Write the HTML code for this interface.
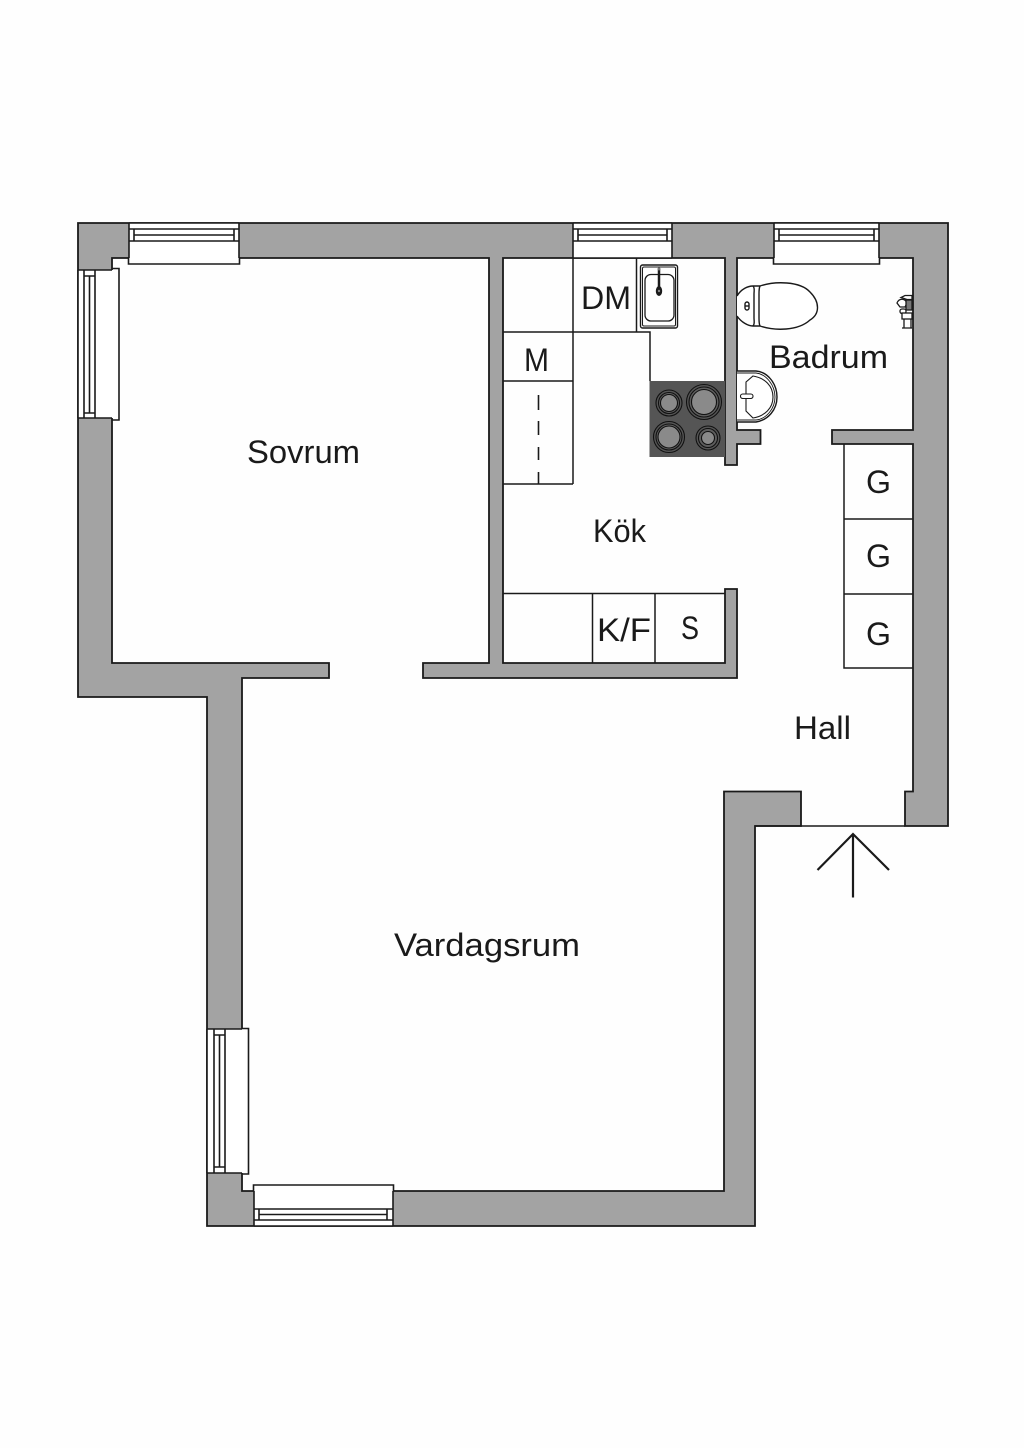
<!DOCTYPE html>
<html>
<head>
<meta charset="utf-8">
<style>
html,body{margin:0;padding:0;background:#fefefe;}
svg{display:block;}
text{font-family:"Liberation Sans",sans-serif;font-size:32px;fill:#1a1a1a;}
</style>
</head>
<body>
<svg xmlns="http://www.w3.org/2000/svg" width="1024" height="1448" viewBox="0 0 1024 1448">
<rect width="1024" height="1448" fill="#fefefe"/>

<!-- Walls -->
<path d="M78 223H948V826H905V791.500H913V444H832V430H913V258H737V430H760.500V444H737V465H725V258H503V663H725V589H737V678H423V663H489V258H112V663H329V678H242V1191H724V791.500H801V826H755V1226H207V697H78Z" fill="#a3a3a3" stroke="#1a1a1a" stroke-width="1.800" stroke-linejoin="miter"/>

<g fill="none" stroke="#1a1a1a" stroke-width="1.600">
<!-- Window top-left -->
<rect x="129" y="223" width="110" height="38" fill="#fff" stroke="none"/>
<path d="M129 223H239M129 223V258M239 223V258M129 258H128.500V264H239.500V258H239"/>
<path d="M129 229H239M129 241H239M134 229V241M234 229V241M134 235H234"/>

<!-- Window left -->
<rect x="78" y="270" width="38" height="148" fill="#fff" stroke="none"/>
<path d="M78 270H112M78 418H112M78 270V418M112 268.500H119V420H112"/>
<path d="M84 270V418M95 270V418M84 276H95M84 413H95M89.500 276V413"/>

<!-- Window kitchen -->
<rect x="573" y="223" width="99" height="35" fill="#fff" stroke="none"/>
<path d="M573 223V258M672 223V258M573 223H672M573 258H672"/>
<path d="M573 229H672M573 241H672M578 229V241M667 229V241M578 235H667"/>

<!-- Window bathroom -->
<rect x="774" y="223" width="105" height="38" fill="#fff" stroke="none"/>
<path d="M774 223H879M774 223V258M879 223V258M774 258H773.500V264H879.500V258H879"/>
<path d="M774 229H879M774 241H879M779 229V241M874 229V241M779 235H874"/>

<!-- Window living left -->
<rect x="207" y="1029" width="38" height="144" fill="#fff" stroke="none"/>
<path d="M207 1029H242M207 1173H242M207 1029V1173M242 1028.500H248.500V1174H242"/>
<path d="M214 1029V1173M225 1029V1173M214 1035H225M214 1167H225M219.500 1035V1167"/>

<!-- Window living bottom -->
<rect x="254" y="1188" width="139" height="38" fill="#fff" stroke="none"/>
<path d="M254 1226H393M254 1191V1226M393 1191V1226M253.500 1191V1185H393.500V1191M254 1209H393M254 1220H393M259 1209V1220M387 1209V1220M259 1214.500H387"/>
</g>

<!-- Kitchen counters -->
<g fill="none" stroke="#1a1a1a" stroke-width="1.500">
<path d="M503 332H650V381M573 258V484M503 381H573M503 484H573M636.500 258V332"/>
<path d="M538.500 395V410M538.500 421V435M538.500 447V460M538.500 472V484" stroke-width="1.600"/>
<path d="M503 593.500H725M592.500 593V663M655 593V663"/>
<!-- Closets -->
<path d="M844 444V668H913M844 519H913M844 594H913"/>
</g>

<!-- Hob -->
<rect x="649.500" y="381" width="75.500" height="76" fill="#555"/>
<g stroke="#111" stroke-width="1.100">
<circle cx="669" cy="403" r="13" fill="#555"/>
<circle cx="669" cy="403" r="10.500" fill="#5e5e5e"/>
<circle cx="669" cy="403" r="8.500" fill="#8a8a8a"/>
<circle cx="704" cy="402" r="17.500" fill="#555"/>
<circle cx="704" cy="402" r="15" fill="#5e5e5e"/>
<circle cx="704" cy="402" r="12.500" fill="#8a8a8a"/>
<circle cx="669" cy="437" r="15.500" fill="#555"/>
<circle cx="669" cy="437" r="13" fill="#5e5e5e"/>
<circle cx="669" cy="437" r="11" fill="#8a8a8a"/>
<circle cx="708" cy="438" r="12" fill="#555"/>
<circle cx="708" cy="438" r="9.500" fill="#5e5e5e"/>
<circle cx="708" cy="438" r="6.500" fill="#8a8a8a"/>
</g>

<!-- Sink -->
<g fill="none" stroke="#1a1a1a">
<rect x="640.500" y="265" width="37" height="63" rx="2" stroke-width="1.400"/>
<rect x="642.500" y="267" width="33" height="59" rx="1.500" stroke-width="1"/>
<rect x="645" y="274.500" width="29" height="46.500" rx="6" stroke-width="1.300"/>
<path d="M659 269V288" stroke-width="2.500"/>
</g>
<ellipse cx="659" cy="291" rx="3.200" ry="5" fill="#1a1a1a"/>
<circle cx="659" cy="291" r="1.200" fill="#888"/>
<circle cx="659" cy="269" r="1.500" fill="#777"/>

<!-- Toilet -->
<g fill="#fff" stroke="#1a1a1a" stroke-width="1.400">
<path d="M737 296C741 289 748 286 753 286H760C775 281 800 281 810 292C820 302 820 314 810 320C798 331 775 331 760 326H753C748 326 741 322 737 316"/>
<path d="M753 286C755 288 754 291 754 294V318C754 321 755 324 753 326M760 286C759 288 759 291 759 294V318C759 321 759 324 760 326" fill="none"/>
<rect x="745" y="302" width="4" height="8" rx="2"/>
<path d="M745 306H749" fill="none"/>

<!-- Basin -->
<path d="M737 371H756C768 372 777 384 777 397C777 410 768 420 756 422H737" fill="#fff"/>
<path d="M737 373H756C766 374 775 385 775 397C775 409 766 419 756 420H737" fill="none" stroke-width="0.900"/>
<path d="M746 382L753 376C765 378 773 386 773 397C773 408 765 416 753 418L746 411Z" fill="none" stroke-width="1.100"/>
<rect x="740.500" y="394" width="12.500" height="4.500" rx="2.200" stroke-width="1.100"/>
</g>

<!-- Shower mixer -->
<g fill="#fff" stroke="#1a1a1a" stroke-width="1.300">
<path d="M912 295.500H905L901 297.500L907 299.500H912Z"/>
<path d="M897 303C899 298 905 298 907 303L905 307H900Z"/>
<rect x="906" y="300" width="6" height="10" fill="#777"/>
<rect x="900" y="309" width="6" height="4.500" rx="2"/>
<rect x="902" y="313" width="10" height="6"/>
<path d="M904 319V328M911 319V328M902 328H912" fill="none"/>
</g>

<!-- Entrance -->
<path d="M755 826H905" fill="none" stroke="#1a1a1a" stroke-width="1.600"/>
<path d="M817.500 870L853 834L889 870M853 834V897.500" fill="none" stroke="#1a1a1a" stroke-width="2.200"/>

<!-- Labels -->
<text x="247" y="463" textLength="113" lengthAdjust="spacingAndGlyphs">Sovrum</text>
<text x="394" y="956" textLength="186" lengthAdjust="spacingAndGlyphs">Vardagsrum</text>
<text x="593" y="542" textLength="53" lengthAdjust="spacingAndGlyphs">Kök</text>
<text x="794" y="739" textLength="57" lengthAdjust="spacingAndGlyphs">Hall</text>
<text x="769" y="368" textLength="119" lengthAdjust="spacingAndGlyphs">Badrum</text>
<text x="581" y="309" textLength="50" lengthAdjust="spacingAndGlyphs">DM</text>
<text x="524" y="371" textLength="25" lengthAdjust="spacingAndGlyphs">M</text>
<text x="597" y="641" textLength="54" lengthAdjust="spacingAndGlyphs">K/F</text>
<text x="681" y="639" textLength="18" lengthAdjust="spacingAndGlyphs">S</text>
<text x="866" y="493" textLength="25" lengthAdjust="spacingAndGlyphs">G</text>
<text x="866" y="567" textLength="25" lengthAdjust="spacingAndGlyphs">G</text>
<text x="866" y="645" textLength="25" lengthAdjust="spacingAndGlyphs">G</text>
</svg>
</body>
</html>
